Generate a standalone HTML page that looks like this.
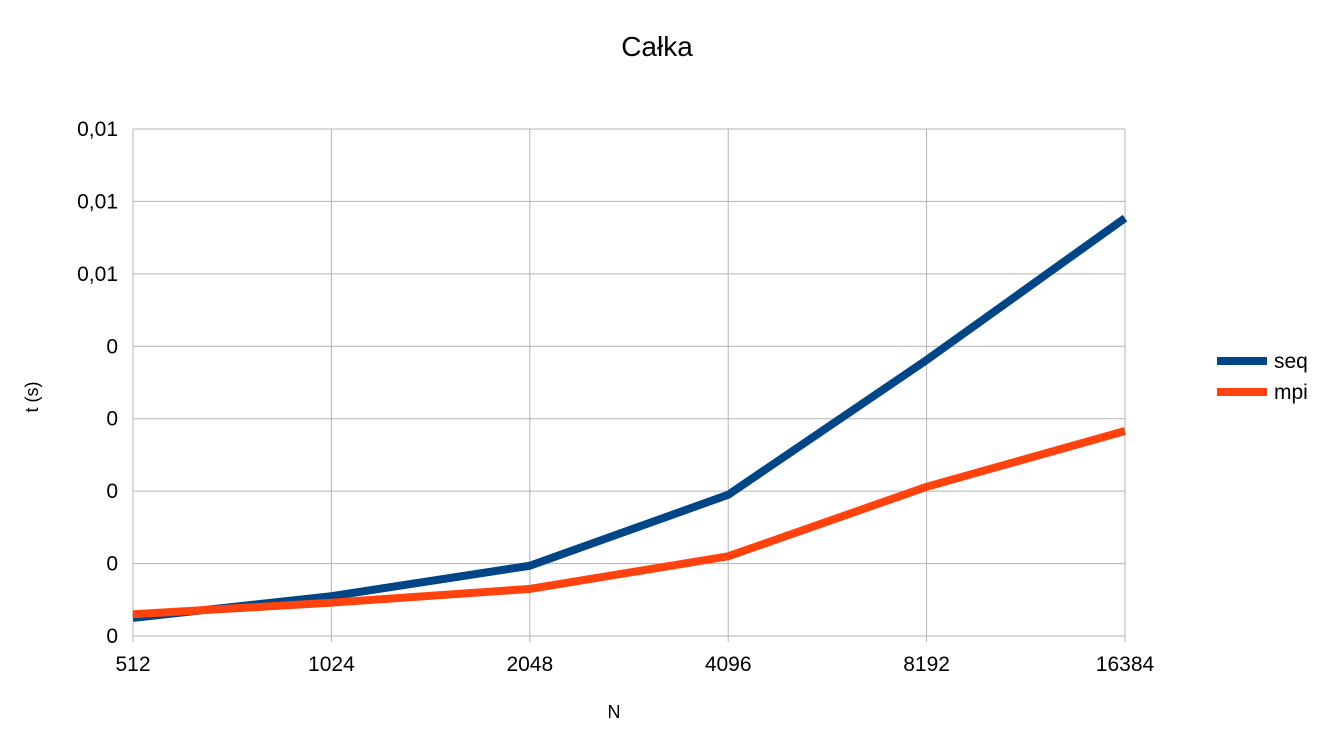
<!DOCTYPE html>
<html><head><meta charset="utf-8"><style>
body{margin:0;background:#fff;}
svg{display:block;font-family:"Liberation Sans",sans-serif;}
</style></head><body>
<svg id="chart" width="1329" height="742" viewBox="0 0 1329 742">
<rect width="1329" height="742" fill="#fff"/>
<text x="657" y="56" font-size="28" text-anchor="middle">Całka</text>
<g id="grid"></g>
<g id="yticks" font-size="21" text-anchor="end"></g>
<g id="xticks" font-size="21" text-anchor="middle"></g>
<text x="0" y="0" font-size="18" text-anchor="middle" transform="translate(38,397) rotate(-90)">t (s)</text>
<text x="614" y="718" font-size="18" text-anchor="middle">N</text>
<g id="series"></g>
<g>
<line x1="1217" y1="361" x2="1267" y2="361" stroke="#004586" stroke-width="8"/>
<text x="1274" y="368" font-size="21">seq</text>
<line x1="1217" y1="392" x2="1267" y2="392" stroke="#ff420e" stroke-width="8"/>
<text x="1274" y="399" font-size="21">mpi</text>
</g>
</svg>
<script>
const categories = ["512","1024","2048","4096","8192","16384"];
const seqValues = [0.00025,0.00055,0.00097,0.00195,0.00381,0.00577];
const mpiValues = [0.0003,0.00046,0.00065,0.0011,0.00206,0.00283];
const yTickValues = [0,0.001,0.002,0.003,0.004,0.005,0.006,0.007];
const yTickLabels = ["0","0","0","0","0","0,01","0,01","0,01"];

const L=133,R=1125,T=129,B=636,YMAX=0.007;
const NS="http://www.w3.org/2000/svg";
function xPos(i){return L+i*(R-L)/(categories.length-1);}
function yPos(v){return B-(v/YMAX)*(B-T);}
function mk(tag,attrs){const e=document.createElementNS(NS,tag);for(const k in attrs)e.setAttribute(k,attrs[k]);return e;}
const grid=document.getElementById('grid'),yt=document.getElementById('yticks'),xt=document.getElementById('xticks'),ser=document.getElementById('series');
yTickValues.forEach((v,i)=>{
  const y=yPos(v);
  const g=mk('line',{x1:L,x2:R,y1:y,y2:y,stroke:'#b3b3b3','stroke-width':1});
  
  
  grid.appendChild(g);
  const t=mk('text',{x:118,y:y+7});
  t.textContent=yTickLabels[i];
  
  
  yt.appendChild(t);
});
categories.forEach((c,i)=>{
  const x=xPos(i);
  const g=mk('line',{x1:x,x2:x,y1:T,y2:B+6,stroke:'#b3b3b3','stroke-width':1});
  
  
  grid.appendChild(g);
  const t=mk('text',{x:x,y:671});
  t.textContent=c;
  
  
  xt.appendChild(t);
});
function drawLine(vals,color,name){
  const pts=vals.map((v,i)=>xPos(i)+','+yPos(v)).join(' ');
  const p=mk('polyline',{points:pts,fill:'none',stroke:color,'stroke-width':8,'stroke-linejoin':'round'});
  
  
  ser.appendChild(p);
}
drawLine(seqValues,'#004586','series-seq');
drawLine(mpiValues,'#ff420e','series-mpi');
</script>
</body></html>
